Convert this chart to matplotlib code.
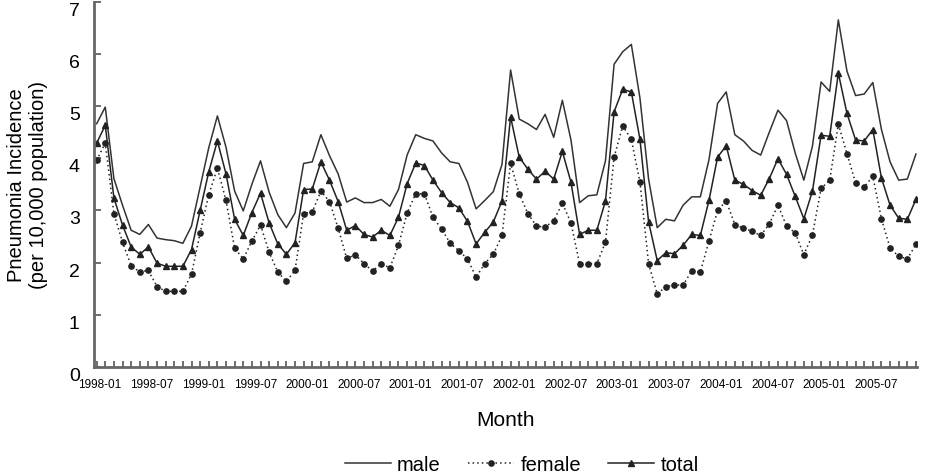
import numpy as np
import matplotlib
matplotlib.use("Agg")
import matplotlib.pyplot as plt
import matplotlib.transforms as mtransforms

plt.rcParams['font.family'] = ['Liberation Sans', 'DejaVu Sans']

# monthly incidence 1998-01 .. 2005-12 (per 10,000)
male = [4.66, 4.98, 3.61, 3.10, 2.62, 2.54, 2.73, 2.47, 2.44, 2.42, 2.37, 2.70,
        3.45, 4.20, 4.81, 4.21, 3.37, 2.99, 3.50, 3.95, 3.35, 2.92, 2.67, 2.95,
        3.90, 3.93, 4.45, 4.05, 3.70, 3.16, 3.24, 3.15, 3.15, 3.21, 3.08, 3.40,
        4.06, 4.45, 4.38, 4.33, 4.10, 3.93, 3.90, 3.54, 3.03, 3.19, 3.36, 3.88,
        5.69, 4.75, 4.66, 4.55, 4.84, 4.40, 5.11, 4.35, 3.15, 3.28, 3.30, 3.95,
        5.80, 6.04, 6.18, 5.15, 3.60, 2.67, 2.83, 2.80, 3.10, 3.26, 3.26, 3.97,
        5.05, 5.27, 4.45, 4.33, 4.15, 4.06, 4.50, 4.92, 4.72, 4.10, 3.58, 4.23,
        5.46, 5.28, 6.65, 5.67, 5.20, 5.23, 5.45, 4.55, 3.93, 3.58, 3.60, 4.08]
female = [3.96, 4.29, 2.94, 2.39, 1.94, 1.82, 1.85, 1.54, 1.45, 1.45, 1.45, 1.78,
          2.57, 3.30, 3.81, 3.19, 2.28, 2.07, 2.41, 2.72, 2.20, 1.82, 1.64, 1.85,
          2.94, 2.97, 3.37, 3.17, 2.66, 2.08, 2.15, 1.98, 1.84, 1.98, 1.90, 2.33,
          2.95, 3.32, 3.32, 2.87, 2.64, 2.37, 2.23, 2.07, 1.72, 1.98, 2.16, 2.52,
          3.90, 3.32, 2.94, 2.70, 2.68, 2.80, 3.14, 2.76, 1.98, 1.98, 1.98, 2.39,
          4.02, 4.62, 4.36, 3.54, 1.98, 1.40, 1.54, 1.57, 1.57, 1.84, 1.82, 2.41,
          3.00, 3.18, 2.73, 2.66, 2.60, 2.52, 2.74, 3.10, 2.70, 2.57, 2.15, 2.53,
          3.42, 3.58, 4.65, 4.09, 3.53, 3.45, 3.65, 2.84, 2.28, 2.12, 2.07, 2.35]
total = [4.29, 4.63, 3.24, 2.72, 2.30, 2.16, 2.30, 1.99, 1.93, 1.93, 1.93, 2.25,
         3.00, 3.74, 4.33, 3.70, 2.83, 2.52, 2.96, 3.33, 2.76, 2.36, 2.16, 2.38,
         3.40, 3.41, 3.93, 3.58, 3.17, 2.62, 2.71, 2.54, 2.49, 2.62, 2.52, 2.87,
         3.51, 3.91, 3.86, 3.58, 3.34, 3.15, 3.05, 2.79, 2.36, 2.58, 2.78, 3.18,
         4.79, 4.02, 3.79, 3.60, 3.75, 3.60, 4.13, 3.54, 2.54, 2.62, 2.62, 3.18,
         4.89, 5.32, 5.27, 4.36, 2.78, 2.04, 2.19, 2.17, 2.33, 2.54, 2.52, 3.19,
         4.02, 4.24, 3.58, 3.50, 3.38, 3.29, 3.61, 3.99, 3.69, 3.27, 2.84, 3.37,
         4.44, 4.42, 5.63, 4.86, 4.35, 4.33, 4.55, 3.62, 3.10, 2.85, 2.83, 3.21]

years = range(1998, 2006)
tick_labels = [f"{y}-{m}" for y in years for m in ("01", "07")]

x = np.arange(len(male))

fig = plt.figure(figsize=(9.27, 4.77), dpi=100)
ax = fig.add_axes([0.101, 0.2285, 0.888, 0.766])

ax.plot(x, male, color='#333333', lw=1.1, label='male')
ax.plot(x, female, color='#222222', lw=1.1, ls=(0, (1, 2)), marker='o',
        ms=3.8, label='female')
ax.plot(x, total, color='#222222', lw=1.1, marker='^', ms=4.2, label='total')

ax.set_xlim(-0.35, 95.1)
ax.set_ylim(0, 7)
ax.set_yticks(range(0, 8))
ax.set_xticks(x, minor=True)
ax.set_xticks(np.arange(0, 96, 6))
ax.set_xticklabels(tick_labels, fontsize=8.5)
ax.tick_params(axis='x', which='both', direction='in', length=4, width=1.2,
               color='#555555', pad=8)
ax.tick_params(axis='y', direction='in', length=5, width=1.2, color='#555555',
               labelsize=14, pad=10)
# labels sit a little off their ticks in the original
yoff = mtransforms.ScaledTranslation(0, -0.065, fig.dpi_scale_trans)
for lab in ax.get_yticklabels():
    lab.set_transform(lab.get_transform() + yoff)
xoff = mtransforms.ScaledTranslation(0.035, 0, fig.dpi_scale_trans)
for lab in ax.get_xticklabels():
    lab.set_transform(lab.get_transform() + xoff)

for s in ('top', 'right'):
    ax.spines[s].set_visible(False)
for s in ('left', 'bottom'):
    ax.spines[s].set_color('#666666')
    ax.spines[s].set_linewidth(2)

ax.set_xlabel('Month', fontsize=15, labelpad=14)
ax.set_ylabel('Pneumonia Incidence\n(per 10,000 population)', fontsize=14.5,
              labelpad=15)

ax.legend(loc='upper center', bbox_to_anchor=(0.52, -0.19), ncol=3,
          frameon=False, fontsize=14.5, handlelength=2.3, columnspacing=1.35,
          handletextpad=0.3)

fig.savefig('out.png', dpi=100)
